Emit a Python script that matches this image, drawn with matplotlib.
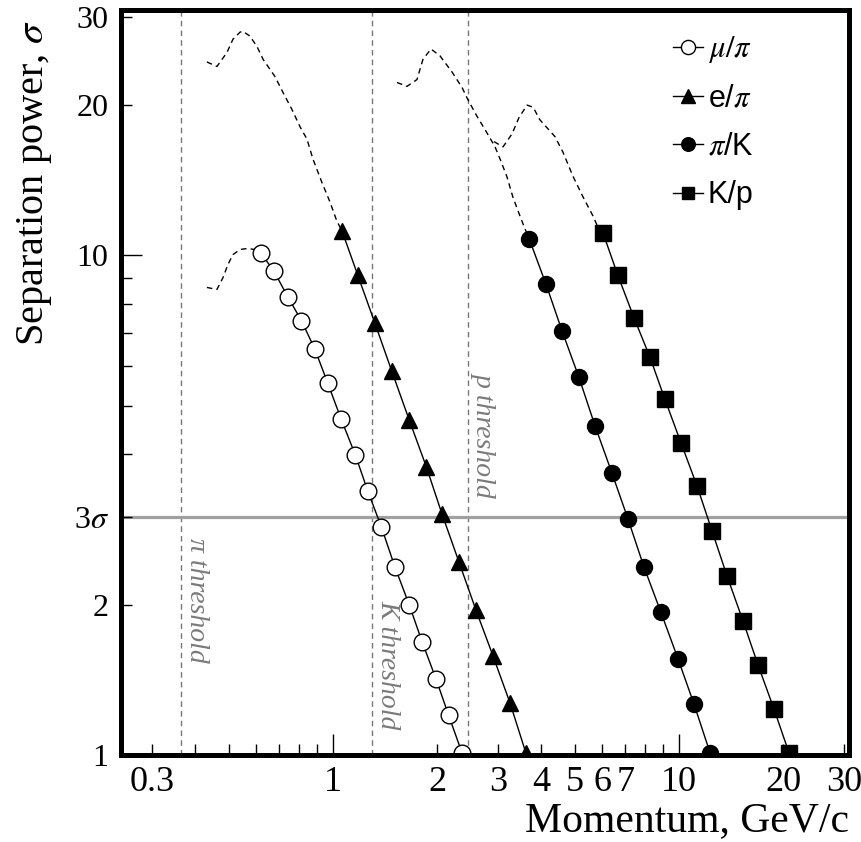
import matplotlib.pyplot as plt
from matplotlib.ticker import FixedLocator, FixedFormatter

plt.rcParams['font.family'] = 'Liberation Serif'
plt.rcParams['mathtext.fontset'] = 'stix'

# momentum (GeV/c) and separation power (sigma)
mu_pi_p = [0.62, 0.675, 0.74, 0.81, 0.885, 0.965, 1.055, 1.16, 1.26, 1.38, 1.51, 1.66, 1.81, 1.985, 2.16, 2.36]
mu_pi_s = [10.1, 9.3, 8.27, 7.41, 6.51, 5.56, 4.71, 3.99, 3.38, 2.86, 2.38, 2.0, 1.685, 1.42, 1.2, 1.01]

e_pi_p = [1.062, 1.18, 1.32, 1.48, 1.66, 1.86, 2.065, 2.31, 2.59, 2.9, 3.25, 3.61]
e_pi_s = [11.2, 9.12, 7.34, 5.86, 4.69, 3.78, 3.04, 2.44, 1.95, 1.58, 1.27, 1.01]

pi_k_p = [3.69, 4.13, 4.59, 5.14, 5.72, 6.4, 7.12, 7.92, 8.87, 9.93, 11.05, 12.3]
pi_k_s = [10.8, 8.75, 7.07, 5.7, 4.56, 3.67, 2.97, 2.38, 1.93, 1.56, 1.265, 1.01]

k_p_p = [6.03, 6.66, 7.41, 8.25, 9.11, 10.13, 11.27, 12.46, 13.76, 15.31, 16.92, 18.82, 20.8]
k_p_s = [11.1, 9.12, 7.51, 6.25, 5.15, 4.22, 3.46, 2.81, 2.285, 1.856, 1.515, 1.236, 1.01]

# dashed parts (below the marker range)
mu_pi_dash_p = [0.432, 0.462, 0.481, 0.497, 0.514, 0.539, 0.568, 0.591]
mu_pi_dash_s = [8.63, 8.55, 9.03, 9.59, 10.04, 10.28, 10.33, 10.28]

e_pi_dash_p = [0.432, 0.462, 0.494, 0.514, 0.539, 0.549, 0.575, 0.603, 0.628, 0.68, 0.717, 0.761, 0.803, 0.841, 0.875, 0.929, 0.98, 1.027]
e_pi_dash_s = [24.4, 23.9, 25.5, 27.1, 28.0, 28.1, 27.5, 26.2, 24.7, 22.8, 21.2, 19.6, 18.1, 17.1, 15.6, 14.0, 12.8, 11.7]

pi_k_dash_p = [1.531, 1.636, 1.749, 1.82, 1.92, 2.038, 2.208, 2.36, 2.455, 2.607, 2.786, 2.94, 3.04, 3.18, 3.31, 3.47, 3.59]
pi_k_dash_s = [22.2, 21.8, 22.5, 24.7, 25.9, 25.1, 23.3, 21.7, 20.5, 19.0, 17.6, 16.5, 15.6, 14.4, 13.1, 12.0, 11.3]

k_p_dash_p = [2.92, 3.10, 3.29, 3.45, 3.64, 3.79, 3.96, 4.38, 4.62, 4.94, 5.28, 5.64, 5.83]
k_p_dash_s = [16.9, 16.5, 17.5, 18.9, 20.0, 19.8, 18.7, 17.3, 16.1, 14.4, 13.1, 12.0, 11.4]

# Cherenkov thresholds
thresholds = [0.364, 1.296, 2.455]
threshold_labels = ['π threshold', 'K threshold', 'p threshold']
threshold_label_top = [2.72, 2.045, 5.85]

x_ticks = [0.3, 1, 2, 3, 4, 5, 6, 7, 10, 20, 30]
x_tick_labels = ['0.3', '1', '2', '3', '4', '5', '6', '7', '10', '20', '30']
y_ticks = [1, 2, 3, 10, 20, 30]
y_tick_labels = ['1', '2', r'3$\sigma$', '10', '20', '30']

fig = plt.figure(figsize=(8.62, 8.42), dpi=100)
ax = fig.add_axes([0.1404, 0.1033, 0.8445, 0.8848])
ax.set_xscale('log')
ax.set_yscale('log')
ax.set_xlim(0.244, 31)
ax.set_ylim(1, 31)

# threshold lines and 3 sigma line
for th, lab, yt in zip(thresholds, threshold_labels, threshold_label_top):
    ax.axvline(th, color='#777777', lw=1, ls=(0, (4, 3)), zorder=1)
    ax.text(th * 1.022, yt, lab, rotation=-90, ha='left', va='top',
            style='italic', color='#7a7a7a', fontsize=20)
ax.axhline(3, color='#a0a0a0', lw=2.3, zorder=1)

series = [
    (mu_pi_dash_p, mu_pi_dash_s, mu_pi_p, mu_pi_s, 'o', 'white', 12, r'$\mu/\pi$'),
    (e_pi_dash_p, e_pi_dash_s, e_pi_p, e_pi_s, '^', 'black', 12, r'e/$\pi$'),
    (pi_k_dash_p, pi_k_dash_s, pi_k_p, pi_k_s, 'o', 'black', 11.5, r'$\pi$/K'),
    (k_p_dash_p, k_p_dash_s, k_p_p, k_p_s, 's', 'black', 11, 'K/p'),
]
for dp, ds, p, s, m, fc, ms, lab in series:
    ax.plot(dp + [p[0]], ds + [s[0]], color='k', lw=1, ls=(0, (4, 3)))
    ax.plot(p, s, color='k', lw=1, marker=m, ms=ms, mfc=fc, mec='k', mew=1, label=lab)

leg = ax.legend(loc='upper left', bbox_to_anchor=(0.737, 0.988), frameon=False,
                prop={'family': 'Liberation Sans', 'size': 22}, borderpad=0,
                handlelength=1.0, handletextpad=0.15, labelspacing=0.6, markerscale=0.85)

# ticks
ax.xaxis.set_major_locator(FixedLocator([1, 10]))
ax.xaxis.set_major_formatter(FixedFormatter(['1', '10']))
x_minor = [0.3, 0.4, 0.5, 0.6, 0.7, 0.8, 0.9, 2, 3, 4, 5, 6, 7, 8, 9, 20, 30]
ax.xaxis.set_minor_locator(FixedLocator(x_minor))
ax.xaxis.set_minor_formatter(FixedFormatter(
    [x_tick_labels[x_ticks.index(t)] if t in x_ticks else '' for t in x_minor]))

ax.yaxis.set_major_locator(FixedLocator([1, 10]))
ax.yaxis.set_major_formatter(FixedFormatter(['1', '10']))
y_minor = [2, 3, 4, 5, 6, 7, 8, 9, 20, 30]
ax.yaxis.set_minor_locator(FixedLocator(y_minor))
ax.yaxis.set_minor_formatter(FixedFormatter(
    [y_tick_labels[y_ticks.index(t)] if t in y_ticks else '' for t in y_minor]))

ax.tick_params(which='both', direction='in', top=False, right=False, width=1)
ax.tick_params(which='major', length=15)
ax.tick_params(which='minor', length=8)
ax.tick_params(axis='x', which='both', labelsize=26, pad=8)
ax.tick_params(axis='y', which='both', labelsize=23, pad=9)

for sp in ax.spines.values():
    sp.set_linewidth(3.6)

ax.set_xlabel('Momentum, GeV/c', fontsize=30, loc='right')
ax.xaxis.set_label_coords(1.0, -0.063)
ax.set_ylabel(r'Separation power, $\sigma$', fontsize=29, loc='top')
ax.yaxis.set_label_coords(-0.092, 0.987)

fig.savefig('out.png', dpi=100)
